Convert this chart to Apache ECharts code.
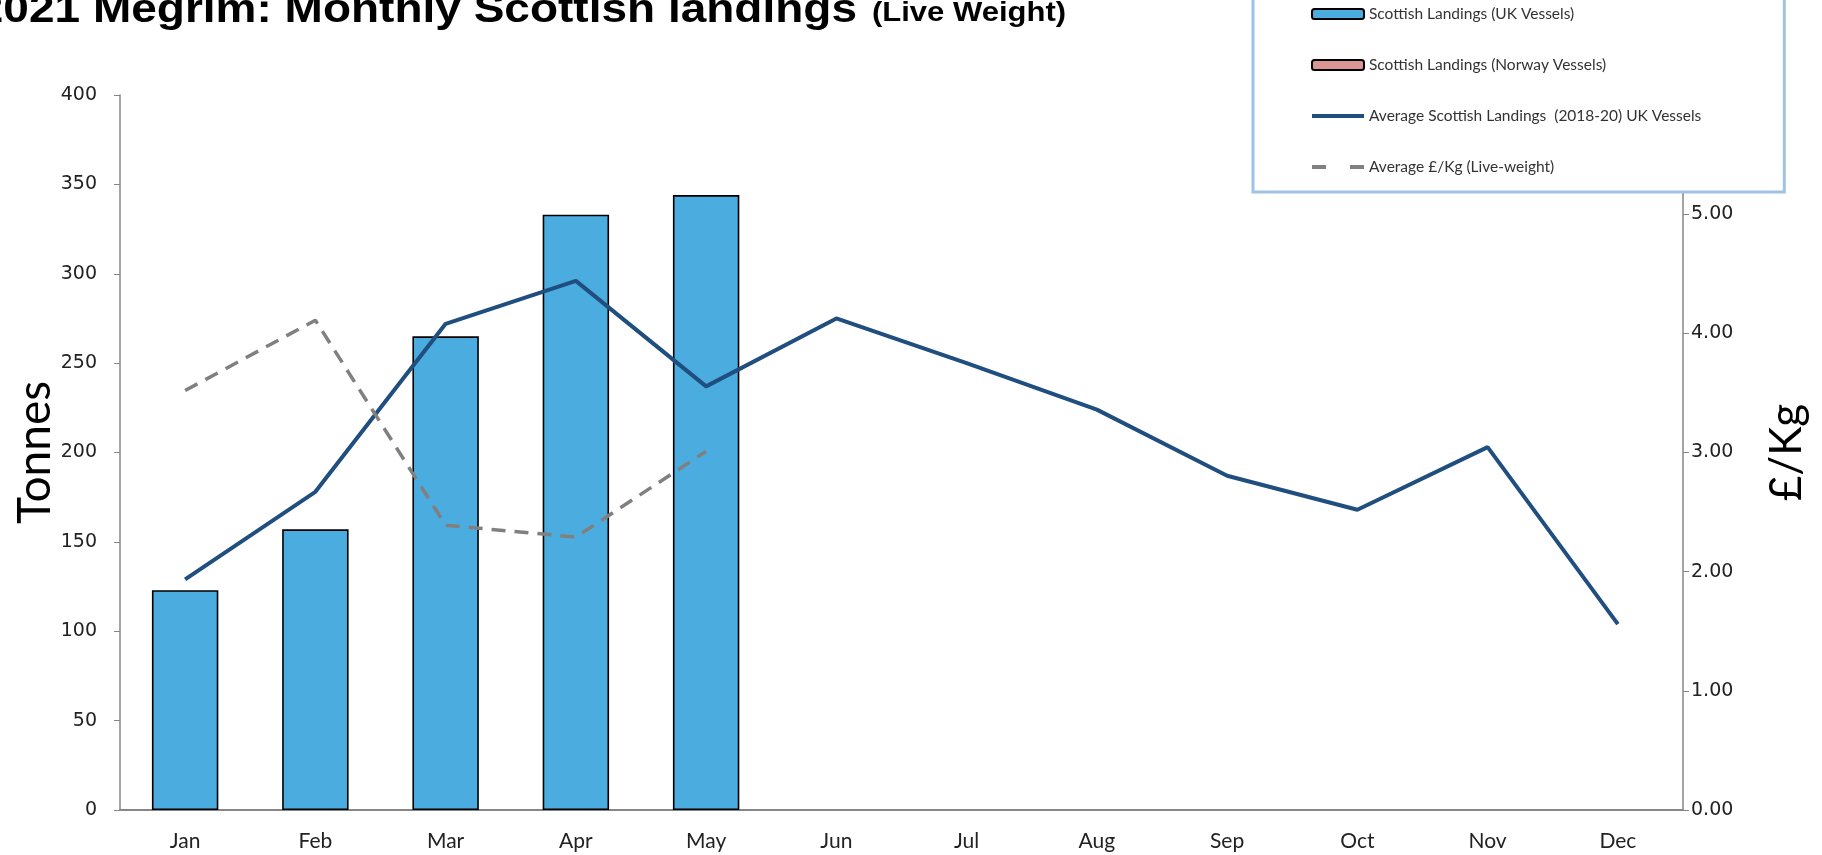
<!DOCTYPE html>
<html>
<head>
<meta charset="utf-8">
<script src="https://cdn.jsdelivr.net/npm/echarts@6/dist/echarts.min.js"></script>
<style>
html,body{margin:0;padding:0;background:#fff;}
#chart{width:1822px;height:855px;}
</style>
</head>
<body>
<div id="chart"></div>
<script>
const titleMain = '2021 Megrim: Monthly Scottish landings';
const titleSub = '(Live Weight)';
const months = ['Jan','Feb','Mar','Apr','May','Jun','Jul','Aug','Sep','Oct','Nov','Dec'];
const seriesNames = ['Scottish Landings (UK Vessels)','Scottish Landings (Norway Vessels)','Average Scottish Landings  (2018-20) UK Vessels','Average £/Kg (Live-weight)'];
const ukLandings = [123, 157, 265, 333, 344, null, null, null, null, null, null, null];
const norwayLandings = [null, null, null, null, null, null, null, null, null, null, null, null];
const avgLandings = [129, 178, 272, 296, 237, 275, 250, 224, 187, 168, 203, 104];
const avgPrice = [3.52, 4.11, 2.39, 2.29, 3.01, null, null, null, null, null, null, null];
const tonnesTicks = {min: 0, max: 400, interval: 50};
const priceTicks = {min: 0, max: 6, interval: 1};

const chart = echarts.init(document.getElementById('chart'));
const axisGray = '#868686';
chart.setOption({
  animation: false,
  backgroundColor: '#ffffff',
  graphic: [
    {type: 'text', x: 857, y: 25, scaleY: 0.9, z: 10,
     style: {text: titleMain, x: 0, y: -16, font: 'bold 46px "Liberation Sans", Arial, sans-serif', fill: '#000', align: 'right', verticalAlign: 'middle'}},
    {type: 'text', x: 872, y: 23, scaleY: 0.9, z: 10,
     style: {text: titleSub, x: 0, y: -10.7, font: 'bold 31px "Liberation Sans", Arial, sans-serif', fill: '#000', align: 'left', verticalAlign: 'middle'}}
  ],
  grid: {left: 120, right: 139, top: 95, bottom: 45, containLabel: false, outerBoundsMode: 'none'},
  legend: {
    orient: 'vertical',
    left: 1253,
    top: -16,
    padding: [20, 83, 15, 57],
    backgroundColor: '#ffffff',
    borderColor: '#9DC3E6',
    borderWidth: 3,
    itemWidth: 52,
    itemHeight: 10,
    itemGap: 31,
    textStyle: {fontFamily: 'Lato', fontSize: 15.5, color: '#333', lineHeight: 20},
    data: [
      {name: seriesNames[0]},
      {name: seriesNames[1]},
      {name: seriesNames[2], itemStyle: {opacity: 0}, lineStyle: {width: 4}},
      {name: seriesNames[3], itemStyle: {opacity: 0}, lineStyle: {width: 4, type: [14, 24]}}
    ],
    z: 10
  },
  xAxis: {
    type: 'category',
    data: months,
    boundaryGap: true,
    axisLine: {show: true, lineStyle: {color: axisGray, width: 2}},
    axisTick: {show: false},
    axisLabel: {fontFamily: 'Lato', fontSize: 21, color: '#222', margin: 21},
    splitLine: {show: false}
  },
  yAxis: [
    {
      type: 'value', position: 'left',
      min: tonnesTicks.min, max: tonnesTicks.max, interval: tonnesTicks.interval,
      name: 'Tonnes', nameLocation: 'middle', nameGap: 62, nameMoveOverlap: false,
      nameTextStyle: {fontFamily: 'Lato', fontSize: 46, color: '#000'},
      axisLine: {show: true, lineStyle: {color: axisGray, width: 1.5}},
      axisTick: {show: true, length: 6, lineStyle: {color: axisGray}},
      axisLabel: {fontFamily: 'DejaVu Sans', fontSize: 19, color: '#222', margin: 23},
      splitLine: {show: false}
    },
    {
      type: 'value', position: 'right',
      min: priceTicks.min, max: priceTicks.max, interval: priceTicks.interval,
      name: '£/Kg', nameLocation: 'middle', nameGap: 82, nameMoveOverlap: false,
      nameTextStyle: {fontFamily: 'Lato', fontSize: 44, color: '#000'},
      axisLine: {show: true, lineStyle: {color: axisGray, width: 1.5}},
      axisTick: {show: true, length: 6, lineStyle: {color: axisGray}},
      axisLabel: {fontFamily: 'DejaVu Sans', fontSize: 19, color: '#222', margin: 8,
                  formatter: v => v.toFixed(2)},
      splitLine: {show: false}
    }
  ],
  series: [
    {name: seriesNames[0], type: 'bar', stack: 'landings', yAxisIndex: 0, barWidth: '51%',
     data: ukLandings, itemStyle: {color: '#4BACDF', borderColor: '#000', borderWidth: 1.6}},
    {name: seriesNames[1], type: 'bar', stack: 'landings', yAxisIndex: 0, barWidth: '51%',
     data: norwayLandings, itemStyle: {color: '#D99694', borderColor: '#000', borderWidth: 1.6}},
    {name: seriesNames[2], type: 'line', yAxisIndex: 0, data: avgLandings, symbol: 'none',
     itemStyle: {color: '#1F4E7F'}, lineStyle: {color: '#1F4E7F', width: 4}},
    {name: seriesNames[3], type: 'line', yAxisIndex: 1, data: avgPrice, symbol: 'none',
     itemStyle: {color: '#808080'}, lineStyle: {color: '#808080', width: 3.5, type: [14, 9]}}
  ]
});
</script>
</body>
</html>
